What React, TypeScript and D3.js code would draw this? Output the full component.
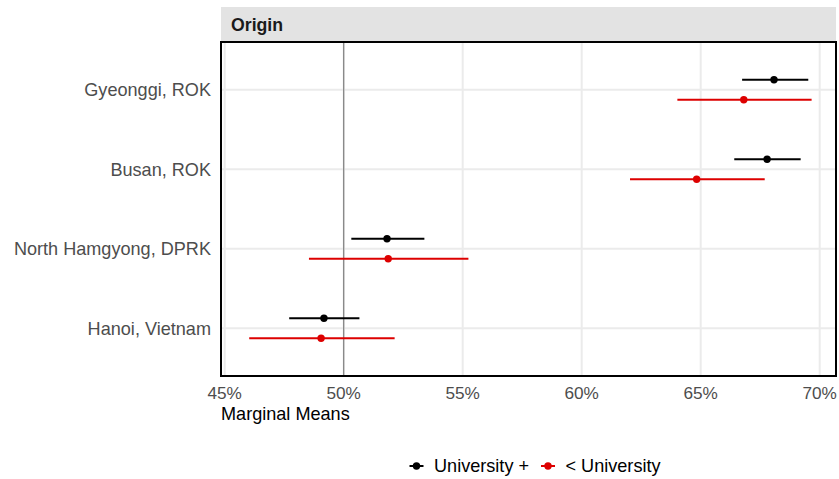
import React from "react";
import * as d3 from "d3";

const categories = ["Gyeonggi, ROK", "Busan, ROK", "North Hamgyong, DPRK", "Hanoi, Vietnam"];
const seriesNames = ["University +", "< University"];
const seriesColors = ["#000000", "#DD0000"];
// estimate, lower, upper (percent) per category for each series
const uniEst = [68.08, 67.79, 51.82, 49.17];
const uniLow = [66.74, 66.41, 50.32, 47.71];
const uniHigh = [69.52, 69.2, 53.39, 50.66];
const lessEst = [66.81, 64.83, 51.87, 49.05];
const lessLow = [64.02, 62.03, 48.54, 46.03];
const lessHigh = [69.66, 67.69, 55.24, 52.14];
const xTicks = [45, 50, 55, 60, 65, 70];
const refLine = 50;

const W = 839;
const H = 479;
const FONT = "'Liberation Sans', Arial, sans-serif";
const FS = 18.1;
const FS_TICK = 17.2;
const FS_STRIP = 17.7;

export default function App() {
  const panel = { left: 221, right: 836, top: 42, bottom: 376 };
  const x = d3.scaleLinear().domain([50, 70]).range([343.7, 819.7]);
  const y = d3
    .scalePoint<string>()
    .domain(categories)
    .range([panel.top, panel.bottom])
    .padding(0.6);
  const dodge = 10;

  const series = [
    { name: seriesNames[0], color: seriesColors[0], est: uniEst, low: uniLow, high: uniHigh, off: -dodge },
    { name: seriesNames[1], color: seriesColors[1], est: lessEst, low: lessLow, high: lessHigh, off: dodge },
  ];

  return (
    <svg width={W} height={H} style={{ position: "absolute", left: 0, top: 0 }} fontFamily={FONT}>
      <rect x={0} y={0} width={W} height={H} fill="#ffffff" />
      {/* strip */}
      <rect x={panel.left} y={7} width={panel.right - panel.left} height={panel.top - 7} fill="#e3e3e3" />
      <text x={231} y={25} dy="0.35em" fontSize={FS_STRIP} fontWeight="bold" fill="#1a1a1a">
        Origin
      </text>
      {/* grid */}
      {xTicks.map((t) => (
        <line key={"gx" + t} x1={x(t)} x2={x(t)} y1={panel.top} y2={panel.bottom} stroke="#ebebeb" strokeWidth={2} />
      ))}
      {categories.map((c) => (
        <line key={"gy" + c} x1={panel.left} x2={panel.right} y1={y(c)!} y2={y(c)!} stroke="#ebebeb" strokeWidth={2} />
      ))}
      <line x1={x(refLine)} x2={x(refLine)} y1={panel.top} y2={panel.bottom} stroke="#808080" strokeWidth={1.2} />
      {/* data */}
      {series.map((s) =>
        categories.map((c, i) => {
          const cy = y(c)! + s.off;
          return (
            <g key={s.name + c}>
              <line x1={x(s.low[i])} x2={x(s.high[i])} y1={cy} y2={cy} stroke={s.color} strokeWidth={2} />
              <circle cx={x(s.est[i])} cy={cy} r={3.7} fill={s.color} />
            </g>
          );
        })
      )}
      {/* panel border */}
      <rect
        x={panel.left}
        y={panel.top}
        width={panel.right - panel.left}
        height={panel.bottom - panel.top}
        fill="none"
        stroke="#000000"
        strokeWidth={2}
      />
      {/* y labels */}
      {categories.map((c) => (
        <text key={"yl" + c} x={211} y={y(c)!} dy="0.35em" textAnchor="end" fontSize={FS} fill="#4d4d4d">
          {c}
        </text>
      ))}
      {/* x tick labels */}
      {xTicks.map((t) => (
        <text key={"xl" + t} x={x(t)} y={393} dy="0.35em" textAnchor="middle" fontSize={FS_TICK} fill="#4d4d4d">
          {d3.format(".0f")(t) + "%"}
        </text>
      ))}
      <text x={221} y={414} dy="0.35em" fontSize={FS} fill="#000000">
        Marginal Means
      </text>
      {/* legend */}
      {[
        { cx: 416.5, tx: 434 },
        { cx: 548, tx: 565.5 },
      ].map((p, i) => (
        <g key={"lg" + i}>
          <line x1={p.cx - 7} x2={p.cx + 7} y1={466} y2={466} stroke={seriesColors[i]} strokeWidth={2} />
          <circle cx={p.cx} cy={466} r={3.7} fill={seriesColors[i]} />
          <text x={p.tx} y={466} dy="0.35em" fontSize={FS} fill="#000000">
            {seriesNames[i]}
          </text>
        </g>
      ))}
    </svg>
  );
}
